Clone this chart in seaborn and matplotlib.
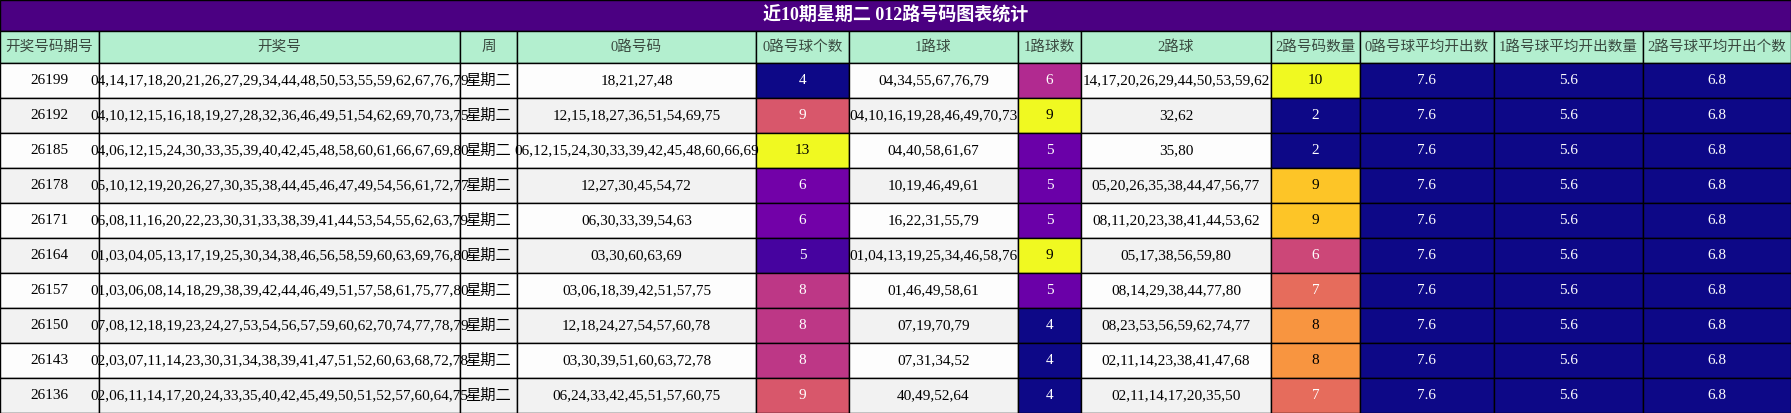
import matplotlib
matplotlib.use("Agg")
import matplotlib.pyplot as plt
import matplotlib.colors as mcolors
from matplotlib.patches import Rectangle
import seaborn as sns

sns.set_style("white")
plt.rcParams['font.family'] = ['Liberation Serif', 'Noto Sans CJK SC']

title = "近10期星期二 012路号码图表统计"
headers = ["开奖号码期号", "开奖号", "周", "0路号码", "0路号球个数", "1路球", "1路球数",
           "2路球", "2路号码数量", "0路号球平均开出数", "1路号球平均开出数量", "2路号球平均开出个数"]

issues = ["26199", "26192", "26185", "26178", "26171", "26164", "26157", "26150", "26143", "26136"]
draws = [
    "04,14,17,18,20,21,26,27,29,34,44,48,50,53,55,59,62,67,76,79",
    "04,10,12,15,16,18,19,27,28,32,36,46,49,51,54,62,69,70,73,75",
    "04,06,12,15,24,30,33,35,39,40,42,45,48,58,60,61,66,67,69,80",
    "05,10,12,19,20,26,27,30,35,38,44,45,46,47,49,54,56,61,72,77",
    "06,08,11,16,20,22,23,30,31,33,38,39,41,44,53,54,55,62,63,79",
    "01,03,04,05,13,17,19,25,30,34,38,46,56,58,59,60,63,69,76,80",
    "01,03,06,08,14,18,29,38,39,42,44,46,49,51,57,58,61,75,77,80",
    "07,08,12,18,19,23,24,27,53,54,56,57,59,60,62,70,74,77,78,79",
    "02,03,07,11,14,23,30,31,34,38,39,41,47,51,52,60,63,68,72,78",
    "02,06,11,14,17,20,24,33,35,40,42,45,49,50,51,52,57,60,64,75",
]
weekday = ["星期二"] * 10
road0 = ["18,21,27,48", "12,15,18,27,36,51,54,69,75", "06,12,15,24,30,33,39,42,45,48,60,66,69",
         "12,27,30,45,54,72", "06,30,33,39,54,63", "03,30,60,63,69", "03,06,18,39,42,51,57,75",
         "12,18,24,27,54,57,60,78", "03,30,39,51,60,63,72,78", "06,24,33,42,45,51,57,60,75"]
count0 = [4, 9, 13, 6, 6, 5, 8, 8, 8, 9]
road1 = ["04,34,55,67,76,79", "04,10,16,19,28,46,49,70,73", "04,40,58,61,67", "10,19,46,49,61",
         "16,22,31,55,79", "01,04,13,19,25,34,46,58,76", "01,46,49,58,61", "07,19,70,79",
         "07,31,34,52", "40,49,52,64"]
count1 = [6, 9, 5, 5, 5, 9, 5, 4, 4, 4]
road2 = ["14,17,20,26,29,44,50,53,59,62", "32,62", "35,80", "05,20,26,35,38,44,47,56,77",
         "08,11,20,23,38,41,44,53,62", "05,17,38,56,59,80", "08,14,29,38,44,77,80",
         "08,23,53,56,59,62,74,77", "02,11,14,23,38,41,47,68", "02,11,14,17,20,35,50"]
count2 = [10, 2, 2, 9, 9, 6, 7, 8, 8, 7]
avg0 = [7.6] * 10
avg1 = [5.6] * 10
avg2 = [6.8] * 10

columns = [issues, draws, weekday, road0, count0, road1, count1, road2, count2, avg0, avg1, avg2]
colored = {4, 6, 8, 9, 10, 11}

edges = [0, 99, 460, 517, 756, 849, 1018, 1081, 1271, 1360, 1494, 1643, 1791]
W, H = 1791, 413
title_h, head_h = 31, 32
row_h = (H - title_h - head_h) / len(issues)

cmap = sns.color_palette("plasma", as_cmap=True)

fig = plt.figure(figsize=(17.91, 4.13), dpi=100)
ax = fig.add_axes([0, 0, 1, 1])
ax.set_xlim(0, W)
ax.set_ylim(H, 0)
ax.axis("off")

lw = 1.0
ax.add_patch(Rectangle((0, 0), W, title_h, facecolor="#4b0082", edgecolor="black", lw=lw))
ax.text(W / 2, title_h / 2, title, color="white", fontsize=13, fontweight="bold",
        ha="center", va="center")

for j, h in enumerate(headers):
    x0, x1 = edges[j], edges[j + 1]
    ax.add_patch(Rectangle((x0, title_h), x1 - x0, head_h, facecolor="#b3efcf",
                           edgecolor="black", lw=lw))
    ax.text((x0 + x1) / 2, title_h + head_h / 2, h, color="#3a4a40", fontsize=10.5,
            ha="center", va="center")

for j, col in enumerate(columns):
    x0, x1 = edges[j], edges[j + 1]
    if j in colored:
        lo, hi = min(col), max(col)
        norm = mcolors.Normalize(lo, hi if hi > lo else lo + 1)
    for i, v in enumerate(col):
        y0 = title_h + head_h + i * row_h
        if j in colored:
            rgba = cmap(norm(v))
            lum = 0.299 * rgba[0] + 0.587 * rgba[1] + 0.114 * rgba[2]
            fc, tc = rgba, ("black" if lum > 0.6 else "white")
        else:
            fc, tc = ("#fdfdfd" if i % 2 == 0 else "#f2f2f2"), "black"
        ax.add_patch(Rectangle((x0, y0), x1 - x0, row_h, facecolor=fc, edgecolor="black", lw=lw))
        ax.text((x0 + x1) / 2, y0 + row_h / 2, str(v), color=tc, fontsize=11,
                ha="center", va="center")

fig.savefig("out.png", dpi=100)
